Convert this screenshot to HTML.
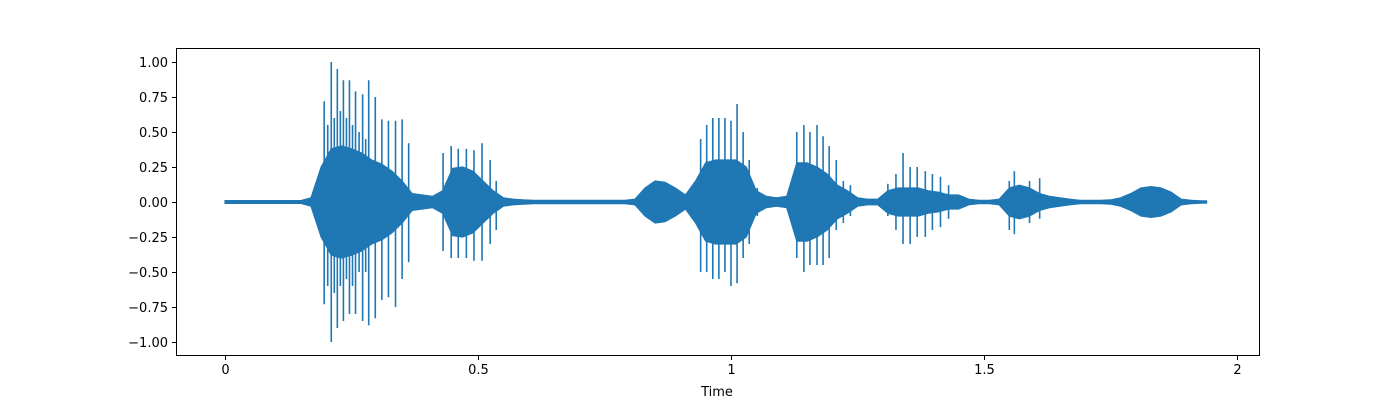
<!DOCTYPE html>
<html><head><meta charset="utf-8"><style>
html,body{margin:0;padding:0;background:#fff;}
svg text{font-family:"DejaVu Sans","Liberation Sans",sans-serif;font-size:13px;fill:#000;}
</style></head><body>
<svg id="chart" width="1400" height="400" viewBox="0 0 1400 400" xmlns="http://www.w3.org/2000/svg">
<rect x="0" y="0" width="1400" height="400" fill="#fff"/>
<g id="marks"></g>
<g id="axes"></g>
</svg>
<script>
// envelope of the waveform core, one value per 0.02 s bin (value at bin centre)
const binStep = 0.02;
const coreAmp = [0.01,0.01,0.01,0.01,0.01,0.01,0.01,0.01,0.03,0.25,0.38,0.4,0.38,0.35,0.3,0.27,0.22,0.15,0.06,0.05,0.04,0.08,0.24,0.25,0.22,0.15,0.08,0.03,0.02,0.015,0.012,0.012,0.012,0.012,0.012,0.012,0.012,0.012,0.012,0.012,0.02,0.1,0.15,0.14,0.1,0.05,0.15,0.28,0.3,0.3,0.3,0.25,0.08,0.04,0.03,0.04,0.28,0.28,0.25,0.2,0.12,0.08,0.03,0.02,0.02,0.08,0.1,0.1,0.1,0.08,0.07,0.05,0.05,0.02,0.012,0.012,0.02,0.1,0.12,0.1,0.06,0.04,0.03,0.02,0.012,0.012,0.012,0.015,0.03,0.06,0.1,0.11,0.1,0.07,0.02,0.012,0.008];
// glottal spikes: time (s), positive peak, negative peak
const spikeTime = [0.196,0.21,0.222,0.234,0.246,0.258,0.272,0.284,0.297,0.31,0.323,0.337,0.35,0.363,0.203,0.216,0.228,0.24,0.252,0.265,0.278,
  0.431,0.447,0.461,0.477,0.492,0.508,0.524,0.536,
  0.94,0.952,0.964,0.976,0.988,1.0,1.012,1.024,1.036,1.052,
  1.13,1.144,1.156,1.17,1.182,1.194,1.208,1.222,1.236,
  1.31,1.326,1.34,1.354,1.368,1.384,1.398,1.414,1.43,
  1.55,1.56,1.574,1.59,1.61];
const spikeHi = [0.72,1.0,0.95,0.87,0.87,0.79,0.77,0.87,0.75,0.59,0.58,0.58,0.59,0.42,0.55,0.6,0.65,0.6,0.55,0.5,0.45,
  0.35,0.4,0.38,0.38,0.37,0.42,0.3,0.15,
  0.45,0.55,0.6,0.6,0.6,0.58,0.7,0.5,0.3,0.1,
  0.5,0.55,0.5,0.55,0.47,0.4,0.3,0.15,0.12,
  0.13,0.2,0.35,0.25,0.25,0.22,0.2,0.18,0.12,
  0.15,0.22,0.1,0.15,0.17];
const spikeLo = [-0.73,-1.0,-0.9,-0.85,-0.8,-0.8,-0.85,-0.88,-0.83,-0.7,-0.68,-0.75,-0.55,-0.43,-0.6,-0.65,-0.6,-0.55,-0.6,-0.5,-0.5,
  -0.35,-0.4,-0.4,-0.4,-0.42,-0.42,-0.3,-0.2,
  -0.5,-0.5,-0.55,-0.55,-0.5,-0.6,-0.58,-0.4,-0.3,-0.1,
  -0.4,-0.5,-0.45,-0.45,-0.45,-0.4,-0.2,-0.15,-0.1,
  -0.1,-0.2,-0.3,-0.3,-0.25,-0.25,-0.2,-0.18,-0.12,
  -0.2,-0.23,-0.1,-0.15,-0.12];
const xTicks = [0,0.5,1,1.5,2];
const xTickLabels = ["0","0.5","1","1.5","2"];
const yTicks = [-1,-0.75,-0.5,-0.25,0,0.25,0.5,0.75,1];
const yTickLabels = ["\u22121.00","\u22120.75","\u22120.50","\u22120.25","0.00","0.25","0.50","0.75","1.00"];

const NS="http://www.w3.org/2000/svg";
const L=176,R=1260,T=48,B=356;
const xs=t=>225+t*506;
const ys=v=>202-v*140;
const color="#1f77b4";
const marks=document.getElementById('marks');
const axes=document.getElementById('axes');
function mk(tag,attrs,parent){const e=document.createElementNS(NS,tag);for(const k in attrs)e.setAttribute(k,attrs[k]);parent.appendChild(e);return e;}

const tEnd=coreAmp.length*binStep;
const upperPts=[[xs(0),ys(coreAmp[0])]], lowerPts=[[xs(0),ys(-coreAmp[0])]];
coreAmp.forEach((a,i)=>{const x=xs((i+0.5)*binStep);upperPts.push([x,ys(a)]);lowerPts.push([x,ys(-a)]);});
upperPts.push([xs(tEnd),ys(coreAmp[coreAmp.length-1])]);lowerPts.push([xs(tEnd),ys(-coreAmp[coreAmp.length-1])]);
const pts=upperPts.concat(lowerPts.slice().reverse()).map(p=>p[0].toFixed(1)+','+p[1].toFixed(1)).join(' ');
const core=mk('polygon',{points:pts,fill:color,stroke:color,'stroke-width':1.2,'stroke-linejoin':'round'},marks);



spikeTime.forEach((t,i)=>{
  const l=mk('line',{x1:xs(t),x2:xs(t),y1:ys(spikeHi[i]),y2:ys(spikeLo[i]),stroke:color,'stroke-width':1.6},marks);
  
  
});

const frame=mk('rect',{x:L+0.5,y:T+0.5,width:R-L-1,height:B-T-1,fill:'none',stroke:'#000','stroke-width':1},axes);


xTicks.forEach((t,i)=>{
  const x=Math.round(xs(t))+0.5;
  mk('line',{x1:x,x2:x,y1:B,y2:B+4,stroke:'#000'},axes);
  const tx=mk('text',{x:x,y:B+18,'text-anchor':'middle'},axes);
  tx.textContent=xTickLabels[i];
  
  
});
yTicks.forEach((v,i)=>{
  const y=Math.round(ys(v))+0.5;
  mk('line',{x1:L-4,x2:L,y1:y,y2:y,stroke:'#000'},axes);
  const tx=mk('text',{x:L-8,y:y+4.5,'text-anchor':'end'},axes);
  tx.textContent=yTickLabels[i];
  
  
});
const xt=mk('text',{x:717,y:396,'text-anchor':'middle'},axes);
xt.textContent='Time';


</script>
</body></html>
